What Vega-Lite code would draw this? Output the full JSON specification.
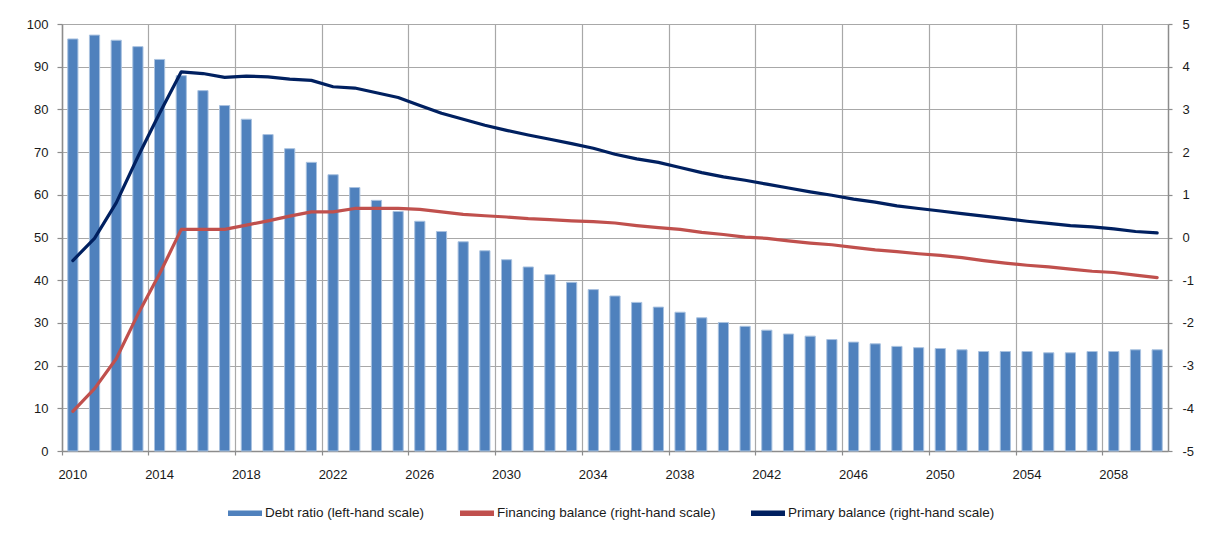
{
  "$schema": "https://vega.github.io/schema/vega-lite/v6.json",
  "width": 1106,
  "height": 427,
  "autosize": {"type": "none"},
  "padding": {"left": 62, "top": 24, "right": 44, "bottom": 83},
  "background": "white",
  "config": {
    "view": {"stroke": null},
    "font": "Liberation Sans",
    "axis": {
      "labelFont": "Liberation Sans",
      "labelFontSize": 13,
      "labelColor": "#1a1a1a",
      "domainColor": "#8c8c8c",
      "domainWidth": 1.5,
      "tickColor": "#8c8c8c",
      "tickWidth": 1.2,
      "gridColor": "#a8a8a8",
      "gridWidth": 1.2
    }
  },
  "data": {
    "values": [
      {"year": 2010, "debt": 96.5, "financing": -4.07, "primary": -0.54},
      {"year": 2011, "debt": 97.4, "financing": -3.54, "primary": -0.02},
      {"year": 2012, "debt": 96.2, "financing": -2.84, "primary": 0.81},
      {"year": 2013, "debt": 94.7, "financing": -1.80, "primary": 1.89},
      {"year": 2014, "debt": 91.7, "financing": -0.85, "primary": 2.91},
      {"year": 2015, "debt": 87.9, "financing": 0.19, "primary": 3.88},
      {"year": 2016, "debt": 84.4, "financing": 0.19, "primary": 3.84},
      {"year": 2017, "debt": 80.9, "financing": 0.19, "primary": 3.75},
      {"year": 2018, "debt": 77.7, "financing": 0.29, "primary": 3.78},
      {"year": 2019, "debt": 74.1, "financing": 0.39, "primary": 3.76},
      {"year": 2020, "debt": 70.8, "financing": 0.50, "primary": 3.71},
      {"year": 2021, "debt": 67.6, "financing": 0.60, "primary": 3.68},
      {"year": 2022, "debt": 64.7, "financing": 0.60, "primary": 3.53},
      {"year": 2023, "debt": 61.7, "financing": 0.68, "primary": 3.50},
      {"year": 2024, "debt": 58.7, "financing": 0.68, "primary": 3.39},
      {"year": 2025, "debt": 56.1, "financing": 0.68, "primary": 3.28},
      {"year": 2026, "debt": 53.8, "financing": 0.66, "primary": 3.09},
      {"year": 2027, "debt": 51.4, "financing": 0.60, "primary": 2.91},
      {"year": 2028, "debt": 49.0, "financing": 0.54, "primary": 2.77},
      {"year": 2029, "debt": 46.9, "financing": 0.51, "primary": 2.63},
      {"year": 2030, "debt": 44.8, "financing": 0.48, "primary": 2.51},
      {"year": 2031, "debt": 43.1, "financing": 0.44, "primary": 2.40},
      {"year": 2032, "debt": 41.3, "financing": 0.42, "primary": 2.30},
      {"year": 2033, "debt": 39.5, "financing": 0.39, "primary": 2.20},
      {"year": 2034, "debt": 37.8, "financing": 0.37, "primary": 2.09},
      {"year": 2035, "debt": 36.3, "financing": 0.34, "primary": 1.95},
      {"year": 2036, "debt": 34.8, "financing": 0.28, "primary": 1.84},
      {"year": 2037, "debt": 33.7, "financing": 0.23, "primary": 1.76},
      {"year": 2038, "debt": 32.5, "financing": 0.19, "primary": 1.64},
      {"year": 2039, "debt": 31.2, "financing": 0.12, "primary": 1.52},
      {"year": 2040, "debt": 30.1, "financing": 0.07, "primary": 1.42},
      {"year": 2041, "debt": 29.2, "financing": 0.01, "primary": 1.34},
      {"year": 2042, "debt": 28.3, "financing": -0.02, "primary": 1.25},
      {"year": 2043, "debt": 27.4, "financing": -0.08, "primary": 1.16},
      {"year": 2044, "debt": 26.9, "financing": -0.13, "primary": 1.07},
      {"year": 2045, "debt": 26.1, "financing": -0.17, "primary": 0.99},
      {"year": 2046, "debt": 25.5, "financing": -0.23, "primary": 0.90},
      {"year": 2047, "debt": 25.1, "financing": -0.29, "primary": 0.83},
      {"year": 2048, "debt": 24.5, "financing": -0.33, "primary": 0.74},
      {"year": 2049, "debt": 24.2, "financing": -0.38, "primary": 0.68},
      {"year": 2050, "debt": 24.0, "financing": -0.42, "primary": 0.62},
      {"year": 2051, "debt": 23.7, "financing": -0.47, "primary": 0.56},
      {"year": 2052, "debt": 23.3, "financing": -0.54, "primary": 0.50},
      {"year": 2053, "debt": 23.3, "financing": -0.60, "primary": 0.44},
      {"year": 2054, "debt": 23.3, "financing": -0.65, "primary": 0.38},
      {"year": 2055, "debt": 23.0, "financing": -0.69, "primary": 0.33},
      {"year": 2056, "debt": 23.0, "financing": -0.74, "primary": 0.28},
      {"year": 2057, "debt": 23.3, "financing": -0.79, "primary": 0.25},
      {"year": 2058, "debt": 23.3, "financing": -0.82, "primary": 0.20},
      {"year": 2059, "debt": 23.7, "financing": -0.88, "primary": 0.14},
      {"year": 2060, "debt": 23.7, "financing": -0.94, "primary": 0.11}
    ]
  },
  "layer": [
    {
      "mark": {"type": "bar", "width": {"band": 0.47}, "stroke": "#a9c2e0", "strokeWidth": 1},
      "encoding": {
        "x": {
          "field": "year",
          "type": "ordinal",
          "scale": {"paddingInner": 0, "paddingOuter": 0},
          "axis": {
            "orient": "bottom",
            "title": null,
            "values": [2010, 2014, 2018, 2022, 2026, 2030, 2034, 2038, 2042, 2046, 2050, 2054, 2058],
            "labelAngle": 0,
            "ticks": false,
            "grid": false,
            "domain": true,
            "labelPadding": 17
          }
        },
        "y": {
          "field": "debt",
          "type": "quantitative",
          "scale": {"domain": [0, 100], "nice": false},
          "axis": {
            "orient": "left",
            "title": null,
            "values": [0, 10, 20, 30, 40, 50, 60, 70, 80, 90, 100],
            "grid": true,
            "tickSize": 5,
            "labelPadding": 9
          }
        },
        "color": {
          "datum": "debt",
          "type": "nominal",
          "scale": {"domain": ["debt", "financing", "primary"], "range": ["#4F81BD", "#C0504D", "#002060"]},
          "legend": {
            "orient": "none",
            "legendX": 166,
            "legendY": 472,
            "direction": "horizontal",
            "title": null,
            "labelExpr": "datum.value == 'debt' ? 'Debt ratio (left-hand scale)' : datum.value == 'financing' ? 'Financing balance (right-hand scale)' : 'Primary balance (right-hand scale)'",
            "labelFont": "Liberation Sans",
            "labelFontSize": 13.5,
            "labelLimit": 0,
            "labelColor": "#1a1a1a",
            "symbolType": "M-1,-0.16H1V0.16H-1Z",
            "symbolSize": 1156,
            "symbolStrokeWidth": 0,
            "symbolOpacity": 1,
            "columnPadding": 35,
            "labelOffset": 3,
            "encode": {
              "symbols": {
                "update": {
                  "fill": {"scale": "color", "field": "value"},
                  "stroke": {"value": "transparent"},
                  "strokeWidth": {"value": 0}
                }
              }
            }
          }
        }
      }
    },
    {
      "transform": [{"fold": ["financing", "primary"], "as": ["series", "value"]}],
      "mark": {"type": "line", "strokeWidth": 3.2, "strokeCap": "round", "strokeJoin": "round"},
      "encoding": {
        "x": {
          "field": "year",
          "type": "ordinal",
          "axis": {
            "orient": "bottom",
            "title": null,
            "values": [2010, 2014, 2018, 2022, 2026, 2030, 2034, 2038, 2042, 2046, 2050, 2054, 2058],
            "labels": false,
            "grid": true,
            "ticks": true,
            "tickSize": 4,
            "bandPosition": 0,
            "domain": false
          }
        },
        "y": {
          "field": "value",
          "type": "quantitative",
          "scale": {"domain": [-5, 5], "nice": false},
          "axis": {
            "orient": "right",
            "title": null,
            "values": [-5, -4, -3, -2, -1, 0, 1, 2, 3, 4, 5],
            "labelExpr": "'' + datum.value",
            "grid": false,
            "tickSize": 4,
            "labelPadding": 10
          }
        },
        "color": {"field": "series", "type": "nominal", "title": null}
      }
    }
  ],
  "resolve": {"scale": {"y": "independent"}, "axis": {"x": "independent"}}
}
